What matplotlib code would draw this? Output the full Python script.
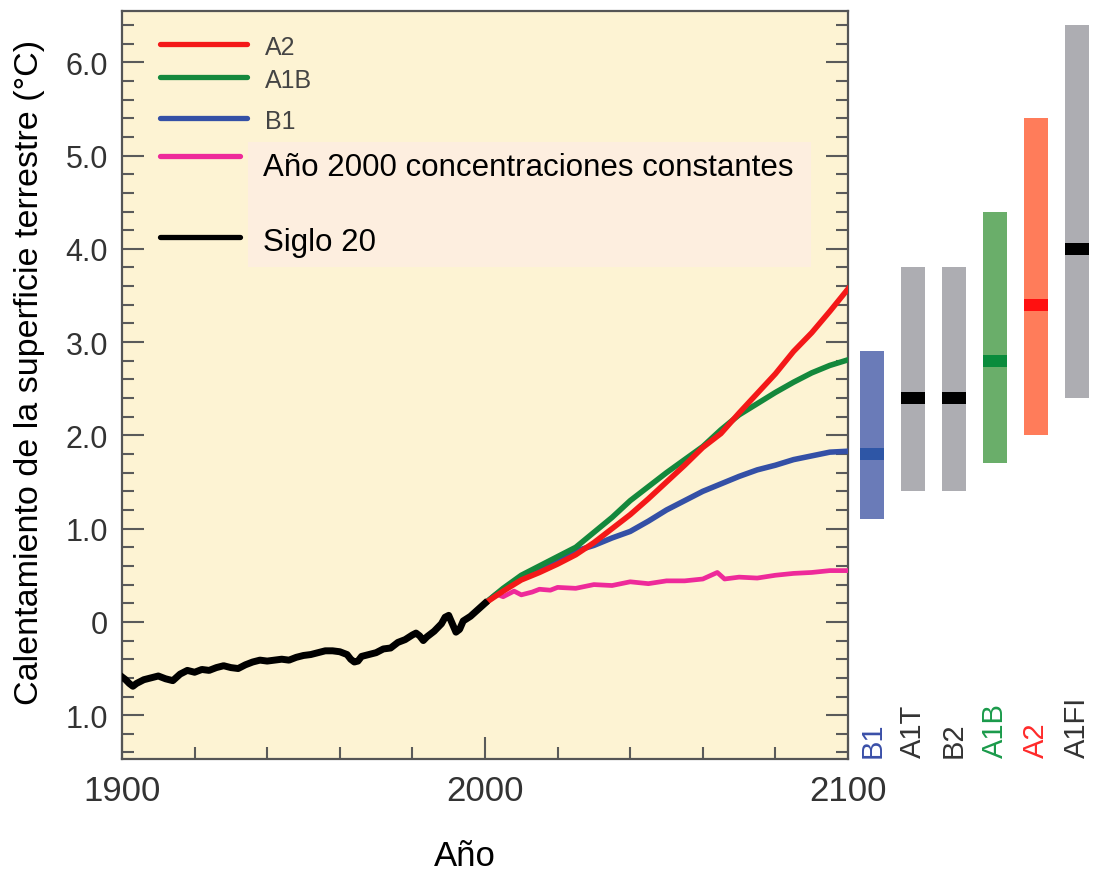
import numpy as np
import matplotlib.pyplot as plt
from matplotlib.ticker import MultipleLocator, FixedLocator
from matplotlib.patches import Rectangle

# siglo 20 (observado)
hist_years = [1900, 1901, 1902, 1903, 1904, 1906, 1908, 1910, 1912, 1914, 1916, 1918,
              1920, 1922, 1924, 1926, 1928, 1930, 1932, 1934, 1936, 1938, 1940, 1942,
              1944, 1946, 1948, 1950, 1952, 1954, 1956, 1958, 1960, 1962, 1963, 1964,
              1965, 1966, 1968, 1970, 1972, 1974, 1976, 1978, 1980, 1981, 1982, 1983,
              1984, 1986, 1988, 1989, 1990, 1991, 1992, 1993, 1994, 1996, 1998, 2000]
hist_vals = [-0.59, -0.62, -0.66, -0.69, -0.66, -0.62, -0.60, -0.58, -0.61, -0.63, -0.56, -0.52,
             -0.54, -0.51, -0.52, -0.49, -0.47, -0.49, -0.50, -0.46, -0.43, -0.41, -0.42, -0.41,
             -0.40, -0.41, -0.38, -0.36, -0.35, -0.33, -0.31, -0.31, -0.32, -0.35, -0.40, -0.43,
             -0.42, -0.37, -0.35, -0.33, -0.29, -0.28, -0.22, -0.19, -0.14, -0.12, -0.15, -0.20,
             -0.16, -0.10, -0.02, 0.05, 0.07, -0.02, -0.11, -0.08, 0.01, 0.06, 0.13, 0.20]

# escenarios
proj_years = [2000, 2005, 2010, 2015, 2020, 2025, 2030, 2035, 2040, 2045, 2050,
              2055, 2060, 2065, 2070, 2075, 2080, 2085, 2090, 2095, 2100]
a2_vals = [0.20, 0.33, 0.45, 0.53, 0.62, 0.72, 0.85, 1.00, 1.15, 1.32, 1.50,
           1.68, 1.87, 2.02, 2.24, 2.45, 2.66, 2.90, 3.10, 3.33, 3.57]
a1b_vals = [0.20, 0.36, 0.50, 0.60, 0.70, 0.80, 0.96, 1.12, 1.30, 1.45, 1.60,
            1.74, 1.88, 2.06, 2.22, 2.34, 2.46, 2.57, 2.67, 2.75, 2.81]
b1_vals = [0.20, 0.35, 0.48, 0.58, 0.66, 0.76, 0.82, 0.90, 0.97, 1.08, 1.20,
           1.30, 1.40, 1.48, 1.56, 1.63, 1.68, 1.74, 1.78, 1.82, 1.83]
const_years = [2000, 2003, 2005, 2008, 2010, 2013, 2015, 2018, 2020, 2025, 2030, 2035,
               2040, 2045, 2050, 2055, 2060, 2064, 2066, 2070, 2075, 2080, 2085, 2090,
               2095, 2100]
const_vals = [0.20, 0.30, 0.27, 0.33, 0.29, 0.32, 0.35, 0.34, 0.37, 0.36, 0.40, 0.39,
              0.43, 0.41, 0.44, 0.44, 0.46, 0.53, 0.46, 0.48, 0.47, 0.50, 0.52, 0.53,
              0.55, 0.55]

# barras de 2090-2099
bar_names = ['B1', 'A1T', 'B2', 'A1B', 'A2', 'A1FI']
bar_low = [1.1, 1.4, 1.4, 1.7, 2.0, 2.4]
bar_high = [2.9, 3.8, 3.8, 4.4, 5.4, 6.4]
bar_best = [1.8, 2.4, 2.4, 2.8, 3.4, 4.0]
bar_colors = ['#6a7bb8', '#adadb2', '#adadb2', '#6aae6a', '#ff7c5a', '#adadb2']
mark_colors = ['#2e56a6', 'black', 'black', '#0a8c3c', '#ff1010', 'black']
label_colors = ['#3a4fa8', '#333333', '#333333', '#1a9a4a', '#ff2a2a', '#333333']

ytick_vals = [-1, 0, 1, 2, 3, 4, 5, 6]
ytick_labels = ['1.0', '0', '1.0', '2.0', '3.0', '4.0', '5.0', '6.0']
xtick_vals = [1900, 2000, 2100]

W, H = 1097, 878
fig = plt.figure(figsize=(W / 100, H / 100), dpi=100)
plt.rcParams['font.family'] = ['Liberation Sans', 'DejaVu Sans']

ax = fig.add_axes([122 / W, 1 - 760 / H, 726 / W, 748 / H])
ax.set_facecolor('#fdf3d3')
ylim = (-1.47, 6.55)
ax.set_xlim(1900, 2100)
ax.set_ylim(*ylim)

ax.plot(const_years, const_vals, color='#ee2a9a', lw=3.4, zorder=3)
ax.plot(proj_years, b1_vals, color='#3450a6', lw=4.0, zorder=4)
ax.plot(proj_years, a1b_vals, color='#14883c', lw=4.0, zorder=5)
ax.plot(proj_years, a2_vals, color='#f41818', lw=4.0, zorder=6)
ax.plot(hist_years, hist_vals, color='black', lw=5.0, zorder=7)

# leyenda
ax.add_patch(Rectangle((0.1736, 0.658), 0.775, 0.167, transform=ax.transAxes,
                       facecolor='#fdeedf', edgecolor='none', zorder=1))
leg = [('A2', '#f41818', 0.956, 0.172), ('A1B', '#14883c', 0.912, 0.172),
       ('B1', '#3450a6', 0.857, 0.172), (None, '#ee2a9a', 0.806, 0.162),
       (None, 'black', 0.698, 0.162)]
for name, c, yy, x2 in leg:
    ax.plot([0.052, x2], [yy, yy], transform=ax.transAxes, color=c, lw=3.8,
            solid_capstyle='round', zorder=8)
    if name:
        ax.text(0.197, yy - 0.004, name, transform=ax.transAxes, fontsize=18,
                color='#444444', va='center', zorder=8)
ax.text(0.194, 0.791, 'Año 2000 concentraciones constantes', transform=ax.transAxes,
        fontsize=22.5, va='center', zorder=8)
ax.text(0.194, 0.691, 'Siglo 20', transform=ax.transAxes,
        fontsize=22.5, va='center', zorder=8)

ax.yaxis.set_major_locator(FixedLocator(ytick_vals))
ax.set_yticklabels(ytick_labels)
ax.yaxis.set_minor_locator(MultipleLocator(0.2))
ax.xaxis.set_major_locator(FixedLocator(xtick_vals))
ax.xaxis.set_minor_locator(MultipleLocator(20))
ax.tick_params(which='both', direction='in', color='#5a5a5a', width=1.5,
               left=True, right=True, top=False, bottom=True)
ax.tick_params(which='major', length=16)
ax.tick_params(which='minor', length=8.5)
ax.tick_params(axis='y', which='major', labelsize=22, labelcolor='#333333', pad=10)
ax.tick_params(axis='x', which='major', labelsize=25, labelcolor='#333333', pad=11)
for s in ax.spines.values():
    s.set_color('#555555')
    s.set_linewidth(1.6)

fig.text(30 / W, 1 - 372 / H, 'Calentamiento de la superficie terrestre (°C)',
         rotation=90, ha='center', va='center', fontsize=24.5)
fig.text(465 / W, 1 - 857 / H, 'Año', ha='center', va='center', fontsize=25)

# barras a la derecha
ax2 = fig.add_axes([850 / W, 1 - 760 / H, 247 / W, 748 / H])
ax2.set_xlim(-0.55, 5.5)
ax2.set_ylim(*ylim)
ax2.axis('off')
xpos = np.arange(len(bar_names))
heights = [h - l for h, l in zip(bar_high, bar_low)]
ax2.bar(xpos, heights, bottom=bar_low, width=0.59, color=bar_colors)
ax2.bar(xpos, 0.13, bottom=np.array(bar_best) - 0.065, width=0.59, color=mark_colors)
for x, name, c in zip(xpos, bar_names, label_colors):
    ax2.text(x, ylim[0] + 0.02, name, rotation=90, ha='center', va='bottom',
             fontsize=21, color=c)

fig.savefig('out.png', dpi=100, facecolor='white')
